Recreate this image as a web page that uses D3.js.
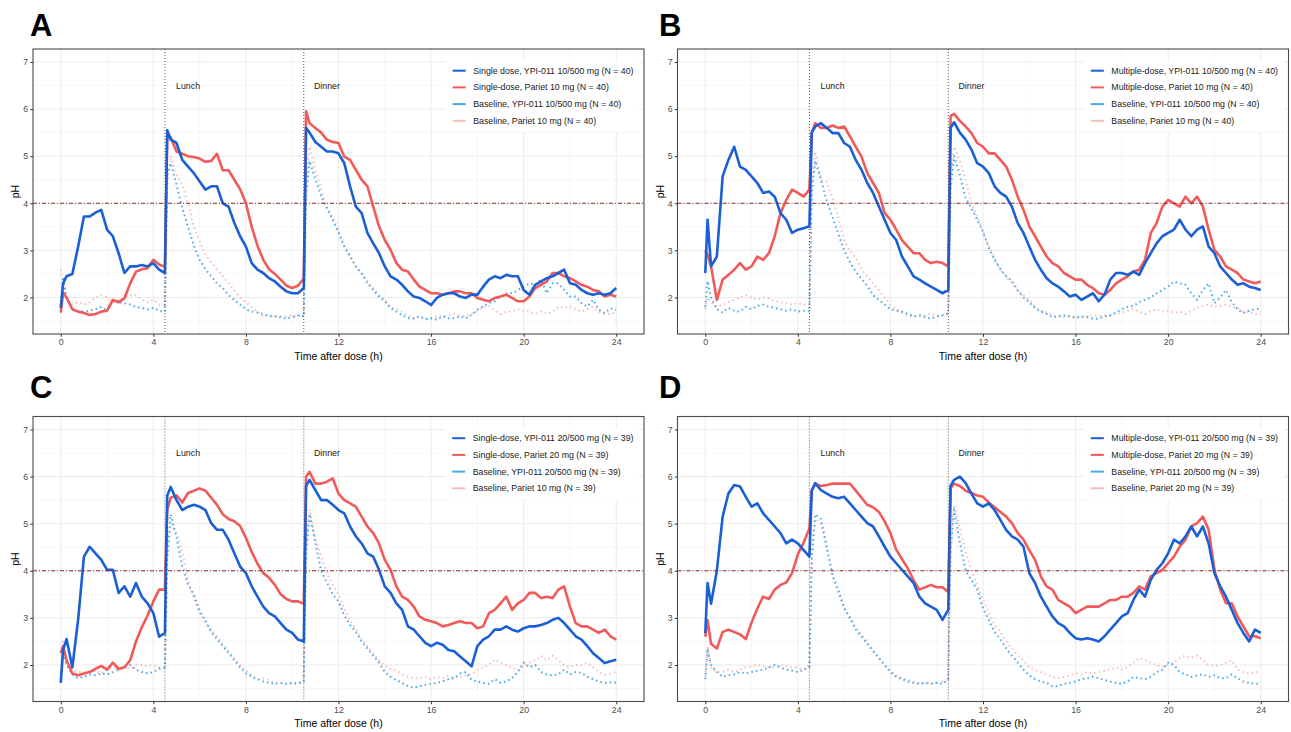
<!DOCTYPE html>
<html>
<head>
<meta charset="utf-8">
<script src="https://cdn.jsdelivr.net/npm/d3@7/dist/d3.min.js"></script>
<style>
  body { margin: 0; background: #fff; }
  text { font-family: Arial, "Liberation Sans", sans-serif; }
</style>
</head>
<body>
<script>
// sampling times (h) shared by every series
const hours = [0, 0.1, 0.25, 0.5, 0.75, 1, 1.25, 1.5, 1.75, 2, 2.25, 2.5, 2.75, 3, 3.25, 3.5, 3.75, 4, 4.25, 4.5,
  4.6, 4.75, 5, 5.25, 5.5, 5.75, 6, 6.25, 6.5, 6.75, 7, 7.25, 7.5, 7.75, 8, 8.25, 8.5, 8.75, 9, 9.25, 9.5, 9.75, 10, 10.25, 10.5,
  10.6, 10.75, 11, 11.25, 11.5, 11.75,
  12, 12.25, 12.5, 12.75, 13, 13.25, 13.5, 13.75, 14, 14.25, 14.5, 14.75, 15, 15.25, 15.5, 15.75, 16, 16.25, 16.5, 16.75,
  17, 17.25, 17.5, 17.75, 18, 18.25, 18.5, 18.75, 19, 19.25, 19.5, 19.75, 20, 20.25, 20.5, 20.75, 21, 21.25, 21.5, 21.75,
  22, 22.25, 22.5, 22.75, 23, 23.25, 23.5, 23.75, 24];

// ---- panel A ----
const phA_ypi = [1.78, 2.3, 2.45, 2.5, 3.08, 3.72, 3.72, 3.8, 3.86, 3.44, 3.3, 2.94, 2.52, 2.66, 2.66, 2.69, 2.66, 2.73, 2.59, 2.52,
  5.55, 5.35, 5.28, 4.92, 4.78, 4.64, 4.46, 4.29, 4.36, 4.36, 4.0, 3.93, 3.58, 3.3, 3.08, 2.73, 2.59, 2.52, 2.41, 2.34, 2.23, 2.13, 2.09, 2.09, 2.2,
  5.6, 5.5, 5.3, 5.2, 5.1, 5.1,
  5.06, 4.85, 4.36, 3.93, 3.79, 3.37, 3.15, 2.94, 2.66, 2.45, 2.38, 2.27, 2.13, 2.02, 1.99, 1.92, 1.84, 1.99, 2.06, 2.09,
  2.09, 2.02, 1.99, 2.06, 2.06, 2.23, 2.38, 2.45, 2.41, 2.48, 2.45, 2.45, 2.16, 2.06, 2.27, 2.34, 2.41, 2.45, 2.52, 2.59,
  2.3, 2.27, 2.16, 2.09, 2.06, 2.09, 2.06, 2.09, 2.2];
const phA_pariet = [1.68, 2.1, 2.0, 1.75, 1.7, 1.67, 1.63, 1.65, 1.7, 1.72, 1.95, 1.9, 1.98, 2.3, 2.55, 2.6, 2.62, 2.8, 2.7, 2.65,
  5.45, 5.4, 5.1, 5.05, 5.0, 4.98, 4.95, 4.88, 4.9, 5.05, 4.7, 4.7, 4.5, 4.3, 4.0, 3.5, 3.1, 2.8, 2.6, 2.5, 2.38, 2.25, 2.2, 2.25, 2.4,
  5.95, 5.7, 5.6, 5.5, 5.35, 5.3,
  5.28, 4.99, 4.92, 4.71, 4.5, 4.36, 3.93, 3.51, 3.22, 3.01, 2.73, 2.59, 2.55, 2.38, 2.23, 2.16, 2.09, 2.09, 2.06, 2.09,
  2.13, 2.13, 2.09, 2.09, 1.99, 1.95, 1.92, 1.99, 2.02, 2.06, 1.99, 1.92, 1.92, 2.02, 2.2, 2.27, 2.34, 2.52, 2.52, 2.45,
  2.41, 2.34, 2.27, 2.23, 2.16, 2.13, 2.02, 2.06, 2.02];
const phA_baseYpi = [1.8, 2.4, 2.0, 1.75, 1.7, 1.7, 1.72, 1.75, 1.8, 1.72, 1.95, 1.9, 1.88, 1.85, 1.8, 1.78, 1.75, 1.78, 1.72, 1.7,
  4.6, 4.85, 4.4, 3.9, 3.5, 3.1, 2.8, 2.6, 2.45, 2.3, 2.2, 2.05, 1.95, 1.85, 1.75, 1.7, 1.68, 1.65, 1.6, 1.6, 1.58, 1.55, 1.58, 1.62, 1.6,
  4.2, 4.9, 4.5, 4.15, 3.9, 3.65,
  3.37, 3.08, 2.87, 2.66, 2.52, 2.3, 2.16, 2.02, 1.92, 1.77, 1.7, 1.63, 1.56, 1.56, 1.6, 1.54, 1.56, 1.53, 1.6, 1.56,
  1.56, 1.6, 1.56, 1.63, 1.74, 1.81, 1.88, 1.92, 2.02, 2.09, 2.09, 2.16, 2.23, 2.3, 2.27, 2.38, 2.09, 2.3, 2.3, 2.16,
  2.02, 2.02, 1.88, 1.81, 1.95, 1.74, 1.67, 1.77, 1.74];
const phA_basePariet = [2.6, 2.3, 1.95, 1.85, 1.9, 1.85, 1.9, 2.0, 2.05, 2.0, 1.9, 1.95, 2.0, 2.05, 2.05, 1.95, 1.9, 1.95, 1.85, 1.85,
  4.4, 5.0, 4.6, 4.4, 4.0, 3.5, 3.2, 2.9, 2.75, 2.6, 2.45, 2.3, 2.15, 2.0, 1.9, 1.8, 1.7, 1.6, 1.62, 1.6, 1.6, 1.6, 1.62, 1.6, 1.65,
  4.5, 5.2, 4.7, 4.3, 3.9, 3.7,
  3.45, 3.1, 2.9, 2.65, 2.5, 2.35, 2.2, 2.05, 1.95, 1.8, 1.75, 1.7, 1.62, 1.55, 1.6, 1.55, 1.55, 1.6, 1.6, 1.62,
  1.65, 1.62, 1.6, 1.65, 1.72, 1.8, 1.82, 1.72, 1.65, 1.7, 1.7, 1.75, 1.72, 1.7, 1.65, 1.7, 1.65, 1.7, 1.8, 1.78,
  1.82, 1.75, 1.7, 1.75, 1.8, 1.7, 1.65, 1.65, 1.68];

// ---- panel B ----
const phB_ypi = [2.52, 3.65, 2.66, 2.87, 4.57, 4.92, 5.2, 4.78, 4.71, 4.57, 4.43, 4.22, 4.25, 4.14, 3.79, 3.65, 3.37, 3.44, 3.47, 3.51,
  5.5, 5.63, 5.7, 5.6, 5.49, 5.49, 5.28, 5.2, 4.92, 4.71, 4.43, 4.22, 3.93, 3.65, 3.37, 3.22, 2.87, 2.66, 2.45, 2.38, 2.3, 2.23, 2.16, 2.09, 2.16,
  5.6, 5.72, 5.5, 5.35, 5.14, 4.85,
  4.78, 4.64, 4.36, 4.22, 4.14, 3.93, 3.58, 3.37, 3.08, 2.8, 2.59, 2.41, 2.3, 2.23, 2.13, 2.02, 2.06, 1.95, 2.02, 2.09,
  1.92, 2.06, 2.38, 2.52, 2.52, 2.48, 2.55, 2.48, 2.73, 2.94, 3.15, 3.3, 3.37, 3.44, 3.65, 3.44, 3.3, 3.44, 3.51, 3.08,
  2.94, 2.66, 2.52, 2.38, 2.27, 2.3, 2.23, 2.2, 2.16];
const phB_pariet = [3.0, 2.9, 2.66, 1.95, 2.38, 2.48, 2.59, 2.73, 2.59, 2.66, 2.87, 2.8, 2.94, 3.3, 3.79, 4.07, 4.29, 4.22, 4.14, 4.29,
  5.5, 5.7, 5.6, 5.6, 5.65, 5.6, 5.63, 5.42, 5.2, 4.99, 4.64, 4.43, 4.22, 3.79, 3.65, 3.44, 3.22, 3.08, 2.94, 2.94, 2.8, 2.73, 2.76, 2.73, 2.66,
  5.85, 5.9, 5.75, 5.63, 5.49, 5.28,
  5.2, 5.06, 5.06, 4.92, 4.78, 4.5, 4.14, 3.86, 3.51, 3.3, 3.08, 2.87, 2.73, 2.66, 2.52, 2.45, 2.38, 2.38, 2.27, 2.2,
  2.09, 2.06, 2.16, 2.3, 2.38, 2.45, 2.55, 2.59, 2.8, 3.37, 3.58, 3.93, 4.07, 4.0, 3.93, 4.14, 4.0, 4.14, 3.93, 3.44,
  3.01, 2.87, 2.66, 2.59, 2.52, 2.38, 2.34, 2.3, 2.34];
const phB_baseYpi = [1.8, 2.35, 2.0, 1.75, 1.68, 1.78, 1.72, 1.7, 1.8, 1.75, 1.82, 1.85, 1.8, 1.78, 1.75, 1.72, 1.75, 1.7, 1.72, 1.7,
  4.2, 4.9, 4.5, 4.05, 3.7, 3.35, 3.0, 2.75, 2.55, 2.4, 2.25, 2.05, 1.95, 1.85, 1.75, 1.72, 1.7, 1.65, 1.6, 1.62, 1.58, 1.55, 1.6, 1.62, 1.65,
  4.3, 5.0, 4.6, 4.1, 3.9, 3.65,
  3.4, 3.05, 2.8, 2.6, 2.45, 2.35, 2.15, 2.0, 1.9, 1.78, 1.7, 1.65, 1.58, 1.6, 1.62, 1.6, 1.58, 1.6, 1.58, 1.55,
  1.55, 1.6, 1.62, 1.68, 1.75, 1.8, 1.82, 1.9, 1.95, 2.0, 2.09, 2.16, 2.23, 2.34, 2.3, 2.27, 2.09, 1.95, 2.16, 2.3,
  1.88, 2.0, 2.16, 1.9, 1.75, 1.67, 1.72, 1.75, 1.77];
const phB_basePariet = [1.75, 2.0, 1.9, 1.8, 1.85, 1.9, 1.95, 2.0, 2.05, 2.0, 1.95, 2.0, 1.98, 1.92, 1.9, 1.88, 1.85, 1.88, 1.85, 1.85,
  4.4, 5.1, 4.5, 4.45, 4.1, 3.7, 3.2, 3.0, 2.85, 2.6, 2.45, 2.3, 2.15, 2.0, 1.85, 1.75, 1.68, 1.62, 1.6, 1.62, 1.62, 1.65, 1.62, 1.62, 1.68,
  4.6, 5.2, 4.9, 4.5, 4.0, 3.7,
  3.4, 3.1, 2.85, 2.6, 2.45, 2.3, 2.15, 2.05, 1.95, 1.8, 1.72, 1.68, 1.62, 1.6, 1.58, 1.6, 1.55, 1.58, 1.6, 1.62,
  1.6, 1.62, 1.62, 1.65, 1.68, 1.72, 1.75, 1.7, 1.65, 1.72, 1.75, 1.7, 1.72, 1.68, 1.7, 1.65, 1.72, 1.78, 1.82, 1.85,
  1.8, 1.82, 1.85, 1.8, 1.78, 1.7, 1.68, 1.65, 1.65];

// ---- panel C ----
const phC_ypi = [1.62, 2.32, 2.55, 1.95, 2.96, 4.3, 4.51, 4.37, 4.23, 4.02, 4.02, 3.53, 3.67, 3.45, 3.74, 3.45, 3.31, 3.1, 2.6, 2.68,
  5.6, 5.78, 5.5, 5.29, 5.36, 5.4, 5.36, 5.29, 5.01, 4.87, 4.87, 4.66, 4.37, 4.09, 3.95, 3.67, 3.45, 3.24, 3.1, 3.03, 2.89, 2.75, 2.68, 2.54, 2.5,
  5.8, 5.93, 5.71, 5.5, 5.5, 5.4,
  5.29, 5.22, 4.94, 4.73, 4.58, 4.37, 4.3, 4.02, 3.67, 3.53, 3.31, 3.17, 2.82, 2.75, 2.61, 2.47, 2.4, 2.47, 2.43, 2.32,
  2.29, 2.18, 2.08, 1.97, 2.4, 2.54, 2.61, 2.75, 2.75, 2.82, 2.75, 2.71, 2.78, 2.82, 2.82, 2.85, 2.89, 2.96, 3.0, 2.89,
  2.75, 2.61, 2.54, 2.4, 2.25, 2.15, 2.04, 2.08, 2.11];
const phC_pariet = [2.25, 2.4, 2.1, 1.82, 1.78, 1.82, 1.85, 1.92, 1.98, 1.9, 2.05, 1.92, 1.95, 2.1, 2.5, 2.8, 3.05, 3.35, 3.6, 3.6,
  5.3, 5.55, 5.6, 5.45, 5.65, 5.7, 5.75, 5.7, 5.55, 5.4, 5.2, 5.1, 5.05, 4.95, 4.7, 4.4, 4.15, 3.95, 3.85, 3.7, 3.5, 3.4, 3.35, 3.35, 3.3,
  6.0, 6.1, 5.85, 5.85, 5.89, 5.96,
  5.64, 5.5, 5.43, 5.36, 5.15, 4.94, 4.8, 4.58, 4.23, 4.02, 3.67, 3.45, 3.38, 3.24, 3.03, 2.96, 2.93, 2.89, 2.82, 2.85,
  2.89, 2.93, 2.89, 2.89, 2.78, 2.82, 3.1, 3.17, 3.31, 3.45, 3.17, 3.31, 3.38, 3.53, 3.53, 3.42, 3.45, 3.42, 3.6, 3.67,
  3.24, 2.89, 2.82, 2.82, 2.75, 2.68, 2.75, 2.61, 2.54];
const phC_baseYpi = [1.75, 2.25, 2.0, 1.8, 1.72, 1.75, 1.8, 1.78, 1.82, 1.8, 1.85, 1.9, 1.95, 2.0, 1.9, 1.85, 1.82, 1.85, 1.92, 1.95,
  4.3, 5.2, 4.7, 4.1, 3.7, 3.5, 3.15, 2.95, 2.7, 2.55, 2.4, 2.25, 2.1, 1.95, 1.82, 1.75, 1.7, 1.65, 1.62, 1.6, 1.62, 1.6, 1.62, 1.6, 1.65,
  4.4, 5.2, 4.6, 4.0, 3.75, 3.5,
  3.35, 3.05, 2.85, 2.7, 2.5, 2.35, 2.2, 2.05, 1.85, 1.75, 1.68, 1.62, 1.55, 1.52, 1.55, 1.58, 1.6, 1.62, 1.65, 1.7,
  1.72, 1.82, 1.85, 1.68, 1.65, 1.62, 1.6, 1.7, 1.62, 1.65, 1.72, 1.85, 2.05, 1.95, 2.0, 1.85, 1.8, 1.78, 1.8, 1.9,
  1.8, 1.85, 1.83, 1.75, 1.7, 1.65, 1.62, 1.63, 1.63];
const phC_basePariet = [1.8, 2.5, 2.1, 1.9, 1.85, 1.85, 1.85, 1.88, 1.82, 1.9, 1.95, 1.9, 1.95, 1.92, 2.0, 2.0, 1.98, 2.0, 1.95, 1.95,
  4.2, 5.0, 4.8, 4.4, 3.8, 3.4, 3.1, 2.9, 2.75, 2.6, 2.45, 2.3, 2.15, 2.0, 1.88, 1.78, 1.7, 1.72, 1.68, 1.62, 1.62, 1.6, 1.6, 1.62, 1.7,
  4.5, 5.3, 4.7, 4.3, 3.95, 3.7,
  3.5, 3.2, 2.95, 2.75, 2.55, 2.4, 2.25, 2.1, 1.98, 1.92, 1.88, 1.8, 1.75, 1.72, 1.72, 1.75, 1.7, 1.75, 1.72, 1.78,
  1.72, 1.75, 1.78, 1.8, 1.9, 1.95, 2.0, 2.12, 2.05, 2.0, 1.95, 1.88, 2.0, 2.05, 2.1, 2.2, 2.1, 2.2, 2.1, 2.0,
  1.95, 2.0, 2.0, 2.05, 1.95, 1.85, 1.8, 1.82, 1.85];

// ---- panel D ----
const phD_ypi = [2.68, 3.74, 3.3, 4.0, 5.15, 5.64, 5.82, 5.79, 5.57, 5.36, 5.43, 5.22, 5.08, 4.94, 4.8, 4.58, 4.66, 4.58, 4.44, 4.3,
  5.7, 5.86, 5.71, 5.64, 5.57, 5.54, 5.57, 5.43, 5.29, 5.15, 5.01, 4.94, 4.73, 4.51, 4.3, 4.16, 4.02, 3.88, 3.74, 3.45, 3.31, 3.24, 3.17, 2.96, 3.17,
  5.8, 5.93, 6.0, 5.86, 5.64, 5.43,
  5.36, 5.43, 5.29, 5.08, 4.87, 4.73, 4.66, 4.51, 3.95, 3.74, 3.45, 3.24, 3.03, 2.89, 2.82, 2.68, 2.57, 2.54, 2.57, 2.54,
  2.5, 2.61, 2.75, 2.89, 3.03, 3.1, 3.38, 3.6, 3.45, 3.81, 4.02, 4.16, 4.37, 4.66, 4.58, 4.73, 4.94, 4.73, 4.94, 4.58,
  3.95, 3.67, 3.45, 3.17, 2.89, 2.68, 2.5, 2.75, 2.68];
const phD_pariet = [2.6, 2.95, 2.45, 2.35, 2.7, 2.75, 2.7, 2.65, 2.55, 2.9, 3.2, 3.45, 3.4, 3.6, 3.7, 3.75, 3.95, 4.35, 4.6, 4.9,
  5.7, 5.85, 5.8, 5.82, 5.85, 5.85, 5.85, 5.85, 5.7, 5.55, 5.4, 5.35, 5.25, 5.05, 4.8, 4.45, 4.25, 4.05, 3.8, 3.6, 3.65, 3.7, 3.65, 3.65, 3.55,
  5.75, 5.85, 5.8, 5.7, 5.65, 5.6,
  5.57, 5.45, 5.35, 5.25, 5.15, 5.01, 4.8, 4.66, 4.44, 4.23, 3.88, 3.67, 3.6, 3.38, 3.31, 3.24, 3.1, 3.17, 3.24, 3.24,
  3.24, 3.31, 3.38, 3.38, 3.45, 3.45, 3.53, 3.67, 3.6, 3.88, 3.95, 4.02, 4.16, 4.3, 4.51, 4.66, 4.94, 5.01, 5.15, 4.87,
  4.02, 3.6, 3.31, 3.31, 3.03, 2.82, 2.61, 2.61, 2.57];
const phD_baseYpi = [1.7, 2.3, 2.0, 1.85, 1.75, 1.78, 1.8, 1.85, 1.82, 1.85, 1.88, 1.9, 1.95, 2.0, 1.95, 1.9, 1.88, 1.85, 1.9, 1.95,
  4.3, 5.2, 5.1, 4.5, 3.9, 3.6, 3.2, 3.0, 2.75, 2.6, 2.45, 2.3, 2.15, 2.0, 1.85, 1.75, 1.7, 1.65, 1.62, 1.6, 1.62, 1.6, 1.62, 1.6, 1.7,
  4.4, 5.3, 4.6, 4.0, 3.8, 3.6,
  3.2, 2.95, 2.7, 2.55, 2.35, 2.2, 2.05, 1.9, 1.78, 1.7, 1.65, 1.62, 1.55, 1.55, 1.6, 1.62, 1.65, 1.7, 1.72, 1.75,
  1.72, 1.68, 1.65, 1.62, 1.6, 1.65, 1.75, 1.72, 1.7, 1.75, 1.85, 1.9, 2.05, 2.0, 1.85, 1.8, 1.75, 1.78, 1.8, 1.75,
  1.78, 1.72, 1.72, 1.8, 1.72, 1.65, 1.62, 1.6, 1.6];
const phD_basePariet = [1.75, 2.4, 1.95, 1.85, 1.85, 1.9, 1.85, 1.9, 1.95, 1.98, 2.0, 1.98, 1.95, 1.95, 2.0, 1.98, 1.95, 1.95, 1.9, 2.0,
  4.2, 5.1, 5.0, 4.5, 3.9, 3.5, 3.25, 3.0, 2.8, 2.65, 2.5, 2.3, 2.15, 2.0, 1.88, 1.78, 1.72, 1.68, 1.65, 1.62, 1.62, 1.6, 1.62, 1.65, 1.7,
  4.5, 5.4, 4.9, 4.4, 4.0, 3.7,
  3.4, 3.1, 2.85, 2.7, 2.5, 2.35, 2.2, 2.1, 1.95, 1.9, 1.85, 1.8, 1.75, 1.72, 1.75, 1.78, 1.82, 1.8, 1.85, 1.82,
  1.85, 1.88, 1.9, 1.95, 1.9, 1.95, 2.05, 2.15, 2.1, 2.05, 2.0, 1.95, 2.0, 2.05, 2.15, 2.2, 2.15, 2.2, 2.1, 2.0,
  1.98, 2.0, 2.05, 2.1, 1.9, 1.85, 1.82, 1.85, 1.85];

// legend texts
const legendA = ["Single dose, YPI-011 10/500 mg (N = 40)", "Single-dose, Pariet 10 mg (N = 40)",
  "Baseline, YPI-011 10/500 mg (N = 40)", "Baseline, Pariet 10 mg (N = 40)"];
const legendB = ["Multiple-dose, YPI-011 10/500 mg (N = 40)", "Multiple-dose, Pariet 10 mg (N = 40)",
  "Baseline, YPI-011 10/500 mg (N = 40)", "Baseline, Pariet 10 mg (N = 40)"];
const legendC = ["Single-dose, YPI-011 20/500 mg (N = 39)", "Single-dose, Pariet 20 mg (N = 39)",
  "Baseline, YPI-011 20/500 mg (N = 39)", "Baseline, Pariet 10 mg (N = 39)"];
const legendD = ["Multiple-dose, YPI-011 20/500 mg (N = 39)", "Multiple-dose, Pariet 20 mg (N = 39)",
  "Baseline, YPI-011 20/500 mg (N = 39)", "Baseline, Pariet 20 mg (N = 39)"];

const xTicks = [0, 4, 8, 12, 16, 20, 24];
const xMinor = [2, 6, 10, 14, 18, 22];
const yTicks = [2, 3, 4, 5, 6, 7];
const yMinor = [1.5, 2.5, 3.5, 4.5, 5.5, 6.5];
const meals = [{t: 4.5, label: "Lunch"}, {t: 10.5, label: "Dinner"}];
const thresholdPH = 4;

// series styles, in legend order
const colors = ["#1a5fd6", "#f25a5a", "#47a8ea", "#f6bdbd"];
const dotted = [false, false, true, true];

const panels = [
  {tag: "A", tagPos: [30, 36], box: {l: 33, t: 49, r: 644, b: 334}, series: [phA_ypi, phA_pariet, phA_baseYpi, phA_basePariet], legend: legendA},
  {tag: "B", tagPos: [659, 36], box: {l: 677.5, t: 49, r: 1288.5, b: 334}, series: [phB_ypi, phB_pariet, phB_baseYpi, phB_basePariet], legend: legendB},
  {tag: "C", tagPos: [30, 398], box: {l: 33, t: 416.5, r: 644, b: 701.5}, series: [phC_ypi, phC_pariet, phC_baseYpi, phC_basePariet], legend: legendC},
  {tag: "D", tagPos: [659, 398], box: {l: 677.5, t: 416.5, r: 1288.5, b: 701.5}, series: [phD_ypi, phD_pariet, phD_baseYpi, phD_basePariet], legend: legendD}
];

const svg = d3.select("body").append("svg")
    .attr("width", 1291)
    .attr("height", 732);

panels.forEach(function (p, pi) {
    const b = p.box;
    const x = d3.scaleLinear().domain([-1.2, 25.2]).range([b.l, b.r]);
    const y = d3.scaleLinear().domain([1.225, 7.275]).range([b.b, b.t]);
    const g = svg.append("g");

    g.append("text")
        .attr("x", p.tagPos[0]).attr("y", p.tagPos[1])
        .style("font-size", "31px").style("font-weight", "bold")
        .text(p.tag);

    // grid
    g.selectAll(".xminor").data(xMinor).enter().append("line")
        .attr("x1", d => x(d)).attr("x2", d => x(d)).attr("y1", b.t).attr("y2", b.b)
        .attr("stroke", "#f3f3f3").attr("stroke-width", 0.7);
    g.selectAll(".yminor").data(yMinor).enter().append("line")
        .attr("y1", d => y(d)).attr("y2", d => y(d)).attr("x1", b.l).attr("x2", b.r)
        .attr("stroke", "#f3f3f3").attr("stroke-width", 0.7);
    g.selectAll(".xmajor").data(xTicks).enter().append("line")
        .attr("x1", d => x(d)).attr("x2", d => x(d)).attr("y1", b.t).attr("y2", b.b)
        .attr("stroke", "#ebebeb").attr("stroke-width", 1);
    g.selectAll(".ymajor").data(yTicks).enter().append("line")
        .attr("y1", d => y(d)).attr("y2", d => y(d)).attr("x1", b.l).attr("x2", b.r)
        .attr("stroke", "#ebebeb").attr("stroke-width", 1);

    const clipId = "clip" + pi;
    g.append("clipPath").attr("id", clipId).append("rect")
        .attr("x", b.l).attr("y", b.t).attr("width", b.r - b.l).attr("height", b.b - b.t);

    const plot = g.append("g").attr("clip-path", "url(#" + clipId + ")");
    const line = d3.line()
        .defined(d => d[1] != null)
        .x(d => x(d[0]))
        .y(d => y(d[1]));

    // baselines first, then Pariet, then YPI-011 on top
    [3, 2, 1, 0].forEach(function (k) {
        const pts = hours.map((h, i) => [h, p.series[k][i]]);
        plot.append("path")
            .datum(pts)
            .attr("fill", "none")
            .attr("stroke", colors[k])
            .attr("stroke-width", dotted[k] ? 2 : 2.6)
            .attr("stroke-dasharray", dotted[k] ? "1.5,3.2" : null)
            .attr("stroke-linejoin", "round")
            .attr("d", line);
    });

    // reference lines
    plot.selectAll(".meal").data(meals).enter().append("line")
        .attr("x1", d => x(d.t)).attr("x2", d => x(d.t)).attr("y1", b.t).attr("y2", b.b)
        .attr("stroke", "#444").attr("stroke-width", 0.9).attr("stroke-dasharray", "1,2");
    plot.append("line")
        .attr("x1", b.l).attr("x2", b.r).attr("y1", y(thresholdPH)).attr("y2", y(thresholdPH))
        .attr("stroke", "#8c2a2a").attr("stroke-width", 1).attr("stroke-dasharray", "4,2,1,2");

    g.selectAll(".mealLabel").data(meals).enter().append("text")
        .attr("x", d => x(d.t + 1)).attr("y", y(6.5)).attr("dy", "0.35em")
        .attr("text-anchor", "middle")
        .style("font-size", "8.8px").attr("fill", "#1a1a1a")
        .text(d => d.label);

    // legend (anchored at top-right of the panel)
    const lg = g.append("g");
    const bg = lg.append("rect").attr("fill", "#fff");
    const labels = lg.selectAll(".lgtext").data(p.legend).enter().append("text")
        .attr("y", (d, i) => b.t + 21.7 + 16.7 * i).attr("dy", "0.35em")
        .style("font-size", "8.8px").attr("fill", "#1a1a1a")
        .text(d => d);
    let maxW = 0;
    labels.each(function () { maxW = Math.max(maxW, this.getComputedTextLength()); });
    const textX = b.r - 10.5 - maxW;
    labels.attr("x", textX);
    bg.attr("x", textX - 27.5).attr("y", b.t + 12)
        .attr("width", maxW + 27.5 + 5.5).attr("height", 71);
    lg.selectAll(".lgkey").data(p.legend).enter().append("line")
        .attr("x1", textX - 20.5).attr("x2", textX - 7.5)
        .attr("y1", (d, i) => b.t + 21.7 + 16.7 * i).attr("y2", (d, i) => b.t + 21.7 + 16.7 * i)
        .attr("stroke", (d, i) => colors[i]).attr("stroke-width", 2);

    // panel border
    g.append("rect")
        .attr("x", b.l).attr("y", b.t).attr("width", b.r - b.l).attr("height", b.b - b.t)
        .attr("fill", "none").attr("stroke", "#4a4a4a").attr("stroke-width", 1.1);

    // axes
    const xa = g.append("g").attr("transform", "translate(0," + b.b + ")")
        .call(d3.axisBottom(x).tickValues(xTicks).tickFormat(d3.format("d")).tickSize(2.75).tickPadding(2.2));
    const ya = g.append("g").attr("transform", "translate(" + b.l + ",0)")
        .call(d3.axisLeft(y).tickValues(yTicks).tickFormat(d3.format("d")).tickSize(2.75).tickPadding(2.2));
    [xa, ya].forEach(function (a) {
        a.select(".domain").remove();
        a.selectAll("line").attr("stroke", "#333");
        a.selectAll("text").style("font-size", "8.8px").attr("fill", "#4d4d4d")
            .style("font-family", "Arial, 'Liberation Sans', sans-serif");
    });

    g.append("text")
        .attr("x", (b.l + b.r) / 2).attr("y", b.b + 25.5)
        .attr("text-anchor", "middle")
        .style("font-size", "10.5px").attr("fill", "#000")
        .text("Time after dose (h)");
    g.append("text")
        .attr("transform", "translate(" + (b.l - 17.5) + "," + ((b.t + b.b) / 2) + ") rotate(-90)")
        .attr("text-anchor", "middle").attr("dy", "0.35em")
        .style("font-size", "10.5px").attr("fill", "#000")
        .text("pH");
});
</script>
</body>
</html>
